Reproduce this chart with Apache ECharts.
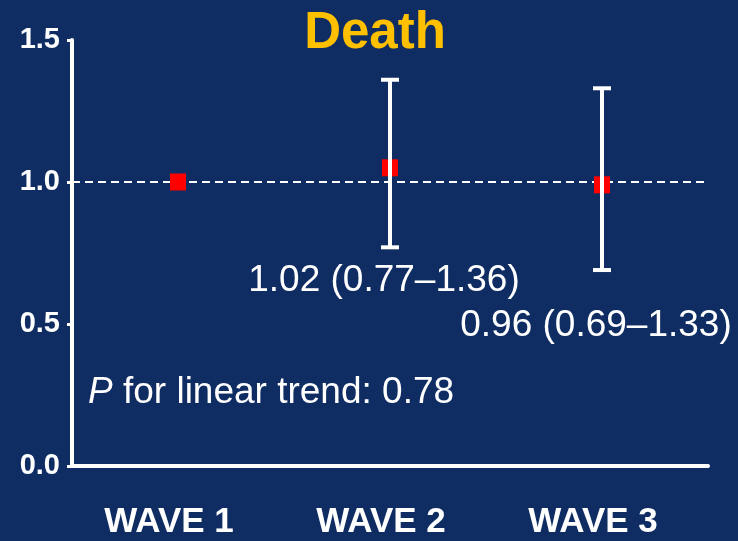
<!DOCTYPE html>
<html>
<head>
<meta charset="utf-8">
<script src="https://cdn.jsdelivr.net/npm/echarts@6/dist/echarts.min.js"></script>
<style>
html,body{margin:0;padding:0;background:#0f2d62;}
#chart{width:738px;height:541px;}
</style>
</head>
<body>
<div id="chart"></div>
<script>
const categories = ['WAVE 1', 'WAVE 2', 'WAVE 3'];
const pointValues = [1.00, 1.05, 0.99];
const lowerCI = [null, 0.77, 0.69];
const upperCI = [null, 1.36, 1.33];
const yTicks = [0.0, 0.5, 1.0, 1.5];
const referenceValue = 1.0;
const titleText = 'Death';
const ciLabels = ['', '1.02 (0.77\u20131.36)', '0.96 (0.69\u20131.33)'];
const trendLabel = 'for linear trend: 0.78';

const FONT = '"Liberation Sans", Arial, sans-serif';
const chart = echarts.init(document.getElementById('chart'));

const errData = [];
categories.forEach((c, i) => {
  if (lowerCI[i] != null) errData.push([i, lowerCI[i], upperCI[i]]);
});

const option = {
  backgroundColor: '#0f2d62',
  animation: false,
  grid: { left: 72, top: 40, width: 636, height: 426 },
  xAxis: {
    type: 'category',
    data: categories,
    boundaryGap: true,
    axisLine: { lineStyle: { color: '#fff', width: 4 } },
    axisTick: { alignWithLabel: true, length: 12, lineStyle: { color: '#fff', width: 3 } },
    axisLabel: { color: '#fff', fontSize: 35, fontWeight: 'bold', fontFamily: FONT, margin: 39,
      padding: [0, 18, 0, 0] },
    splitLine: { show: false }
  },
  yAxis: {
    type: 'value',
    min: yTicks[0], max: yTicks[yTicks.length - 1], interval: 0.5,
    axisLine: { show: true, lineStyle: { color: '#fff', width: 4 } },
    axisTick: { show: true, length: 5, lineStyle: { color: '#fff', width: 3 } },
    axisLabel: { color: '#fff', fontSize: 29, fontWeight: 'bold', fontFamily: FONT, margin: 12,
      formatter: v => v.toFixed(1) },
    splitLine: { show: false }
  },
  series: [
    {
      type: 'scatter',
      data: pointValues.map((v, i) => [i, v]),
      symbol: 'rect',
      symbolSize: [16, 17],
      itemStyle: { color: '#ff0000', opacity: 1 },
      z: 3,
      markLine: {
        silent: true,
        symbol: ['none', 'none'],
        label: { show: false },
        lineStyle: { color: '#fff', type: [8, 5], width: 2 },
        data: [{ yAxis: referenceValue }],
        z: 1
      }
    },
    {
      type: 'custom',
      data: errData,
      z: 5,
      renderItem: function (params, api) {
        const x = api.value(0);
        const lo = api.coord([x, api.value(1)]);
        const hi = api.coord([x, api.value(2)]);
        const hw = 9;
        const style = { stroke: '#fff', lineWidth: 4 };
        return {
          type: 'group',
          children: [
            { type: 'line', shape: { x1: lo[0], y1: lo[1], x2: hi[0], y2: hi[1] }, style },
            { type: 'line', shape: { x1: hi[0] - hw, y1: hi[1], x2: hi[0] + hw, y2: hi[1] }, style },
            { type: 'line', shape: { x1: lo[0] - hw, y1: lo[1], x2: lo[0] + hw, y2: lo[1] }, style }
          ]
        };
      }
    }
  ],
  graphic: [
    {
      type: 'text', x: 375, y: 34,
      style: { text: titleText, fill: '#ffc000', font: 'bold 51px ' + FONT,
        textAlign: 'center', textVerticalAlign: 'middle' },
      z: 10
    },
    {
      type: 'text', x: 384, y: 281,
      style: { text: ciLabels[1], fill: '#fff', font: '37px ' + FONT,
        textAlign: 'center', textVerticalAlign: 'middle' },
      z: 10
    },
    {
      type: 'text', x: 596, y: 326,
      style: { text: ciLabels[2], fill: '#fff', font: '37px ' + FONT,
        textAlign: 'center', textVerticalAlign: 'middle' },
      z: 10
    },
    {
      type: 'text', x: 88, y: 393,
      style: {
        text: '{i|P} {n|' + trendLabel + '}',
        textVerticalAlign: 'middle',
        rich: {
          i: { fontStyle: 'italic', fontSize: 37, fontFamily: FONT, color: '#fff' },
          n: { fontSize: 37, fontFamily: FONT, color: '#fff' }
        },
        font: '37px ' + FONT, fill: '#fff'
      },
      z: 10
    }
  ]
};
chart.setOption(option);
</script>
</body>
</html>
